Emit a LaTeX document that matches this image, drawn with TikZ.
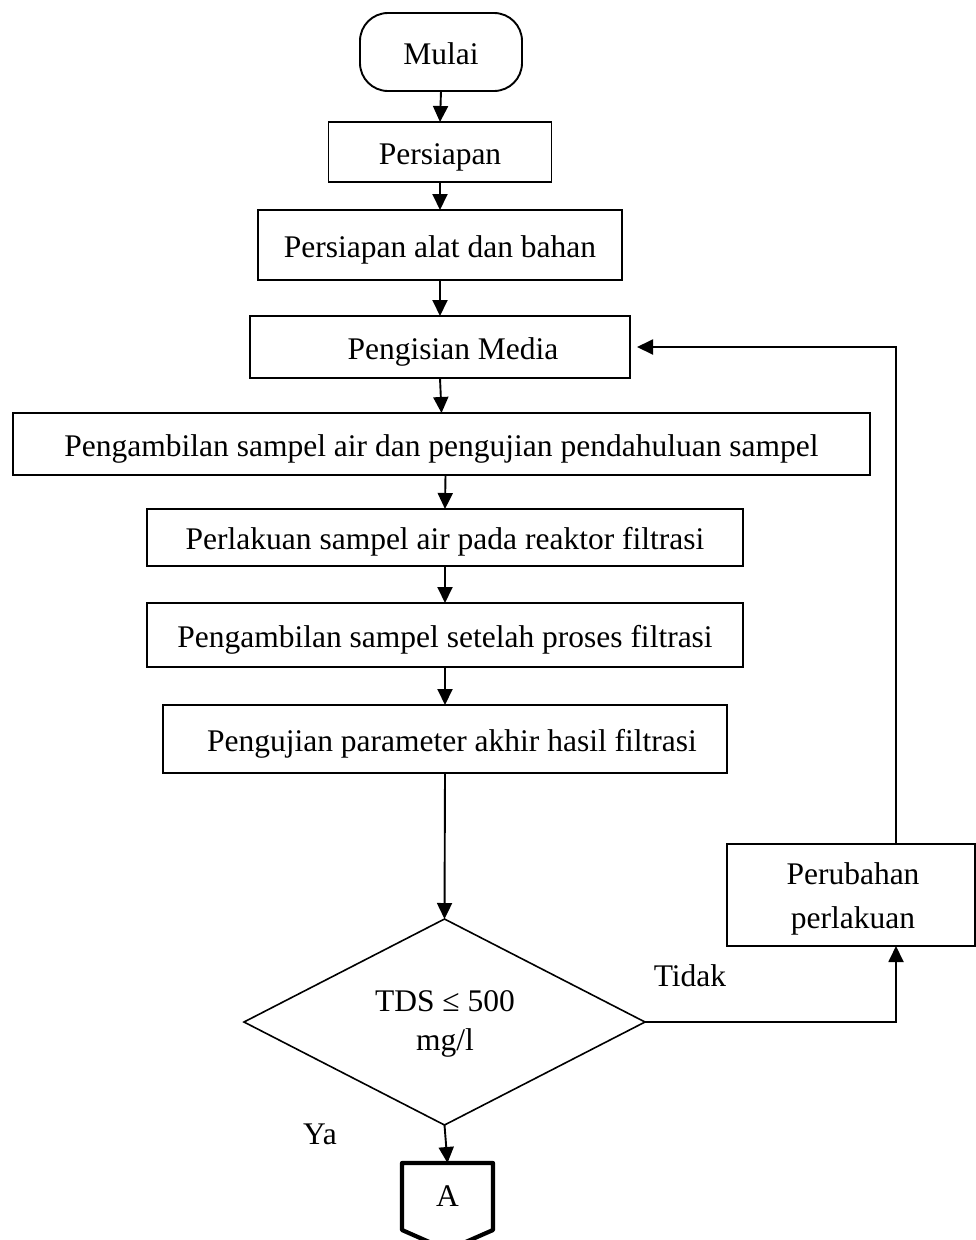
\documentclass[tikz,border=0pt]{standalone}
\usepackage{fontspec}
\setmainfont{Liberation Serif}
\usetikzlibrary{arrows.meta,shapes.geometric,calc}

\tikzset{
  base/.style={inner sep=0pt, outer sep=0pt, align=center,
    font=\fontsize{31.5}{44}\selectfont},
  oneline/.style={text height=29pt, text depth=5pt},
  procbox/.style={base, oneline, draw, line width=1.9pt, rectangle},
  plainbox/.style={base, draw, line width=1.9pt, rectangle},
  termbox/.style={base, oneline, draw, line width=1.9pt, rectangle, rounded corners=28pt},
  decbox/.style={base, draw, line width=1.6pt, diamond},
  lbl/.style={base},
  arr/.style={line width=1.9pt, -{Triangle[length=16pt,width=15pt]}},
  pagecon/.style={line width=4.2pt, line join=round}
}

\begin{document}
\begin{tikzpicture}[x=1pt,y=-1pt]
\useasboundingbox (0,0) rectangle (976,1240);

% process chain
\node[termbox, minimum width=162pt, minimum height=78pt] (mulai) at (441,52) {Mulai};
\node[procbox, minimum width=223pt, minimum height=60pt] (persiapan) at (440,152) {Persiapan};
\node[procbox, minimum width=364pt, minimum height=70pt] (alat) at (440,245) {Persiapan alat dan bahan};
\node[procbox, minimum width=380pt, minimum height=62pt] (media) at (440,347) {\hspace*{26pt}Pengisian Media};
\node[procbox, minimum width=857pt, minimum height=62pt] (ambil) at (441.5,444) {Pengambilan sampel air dan pengujian pendahuluan sampel};
\node[procbox, minimum width=596pt, minimum height=57pt] (perlakuan) at (445,537.5) {Perlakuan sampel air pada reaktor filtrasi};
\node[procbox, minimum width=596pt, minimum height=64pt] (setelah) at (445,635) {Pengambilan sampel setelah proses filtrasi};
\node[procbox, minimum width=564pt, minimum height=68pt] (uji) at (445,739) {\hspace*{14pt}Pengujian parameter akhir hasil filtrasi};

% decision
\node[decbox, minimum width=401pt, minimum height=206pt] (tds) at (444.5,1022) {};
\node[lbl] (tdstext) at (445,1001) {TDS ≤ 500};
\node[lbl] (tdsunit) at (445,1043) {mg/l};

% feedback branch
\node[plainbox, minimum width=248pt, minimum height=102pt] (ubah) at (851,895) {};
\node[lbl] (ubahtext) at (853,899) {Perubahan\\perlakuan};
\node[lbl] (tidak) at (690,976) {Tidak};
\node[lbl] (ya) at (320,1134) {Ya};

% off-page connector
\node[base, minimum width=91pt, minimum height=67pt] (conA) at (447.5,1196.5) {A};
\draw[pagecon] (conA.north west) -- (conA.north east) -- (conA.south east)
  -- ($(conA.south)+(0,20)$) -- (conA.south west) -- cycle;

% connectors
\draw[arr] (mulai.south) -- (persiapan.north);
\draw[arr] (persiapan.south) -- (alat.north);
\draw[arr] (alat.south) -- (media.north);
\draw[arr] (media.south) -- (ambil.north);
\draw[arr] ([xshift=4pt]ambil.south) -- (perlakuan.north);
\draw[arr] (perlakuan.south) -- (setelah.north);
\draw[arr] (setelah.south) -- (uji.north);
\draw[arr] (uji.south) -- (tds.north);
\draw[arr] (tds.south) -- (conA.north);
\draw[arr] (tds.east) -| ([xshift=45pt]ubah.south);
\draw[arr, shorten >=7pt] ([xshift=45pt]ubah.north) |- (media.east);
\end{tikzpicture}
\end{document}
